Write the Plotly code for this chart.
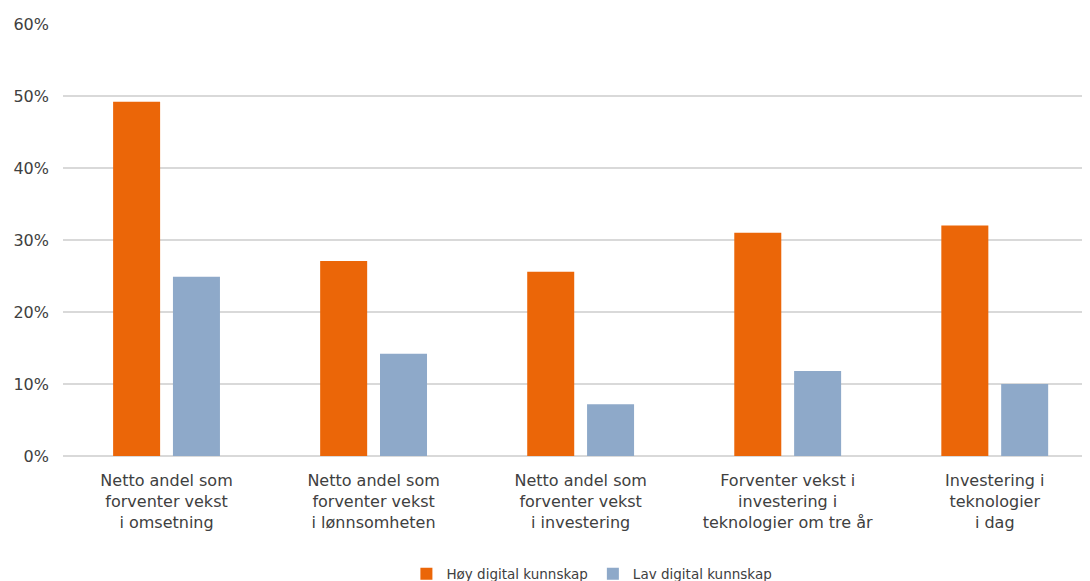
import plotly.graph_objects as go

categories = [
    "Netto andel som<br>forventer vekst<br>i omsetning",
    "Netto andel som<br>forventer vekst<br>i lønnsomheten",
    "Netto andel som<br>forventer vekst<br>i investering",
    "Forventer vekst i<br>investering i<br>teknologier om tre år",
    "Investering i<br>teknologier<br>i dag",
]
hoy_values = [0.492, 0.271, 0.256, 0.310, 0.320]
lav_values = [0.249, 0.142, 0.072, 0.118, 0.100]
series_names = ["Høy digital kunnskap", "Lav digital kunnskap"]

ORANGE = "#EB6608"
BLUE = "#8EA9C9"
TEXT = "#404040"
FONT = "DejaVu Sans"

fig = go.Figure()
fig.add_trace(go.Bar(
    x=categories, y=hoy_values, name=series_names[0],
    marker=dict(color=ORANGE, line=dict(width=0)),
    width=0.227, offset=-0.258,
))
fig.add_trace(go.Bar(
    x=categories, y=lav_values, name=series_names[1],
    marker=dict(color=BLUE, line=dict(width=0)),
    width=0.227, offset=0.031,
))

# page body has an 8px margin, so the figure is sized to end at the window edge
fig.update_layout(
    width=1082, height=573,
    margin=dict(l=55, r=0, t=16, b=125, autoexpand=False),
    plot_bgcolor="white", paper_bgcolor="white",
    font=dict(family=FONT, size=16, color=TEXT),
    showlegend=True,
    legend=dict(
        orientation="h", x=0.515, xanchor="center",
        yref="paper", y=-0.273, yanchor="middle",
        font=dict(size=13.5, color=TEXT), traceorder="normal",
        itemwidth=30,
    ),
    xaxis=dict(
        range=[-0.5, 4.46], showgrid=False, showline=False, automargin=False,
        tickfont=dict(size=16, color=TEXT), ticks="",
        ticklabelstandoff=13,
    ),
    yaxis=dict(
        range=[0, 0.6], dtick=0.1, tickformat=".0%", automargin=False,
        showgrid=True, gridcolor="#D9D9D9", gridwidth=1.5,
        zeroline=True, zerolinecolor="#D9D9D9", zerolinewidth=1.5,
        tickfont=dict(size=16, color=TEXT), ticks="",
        ticklabelstandoff=13,
    ),
)

fig.write_html("out.html")
